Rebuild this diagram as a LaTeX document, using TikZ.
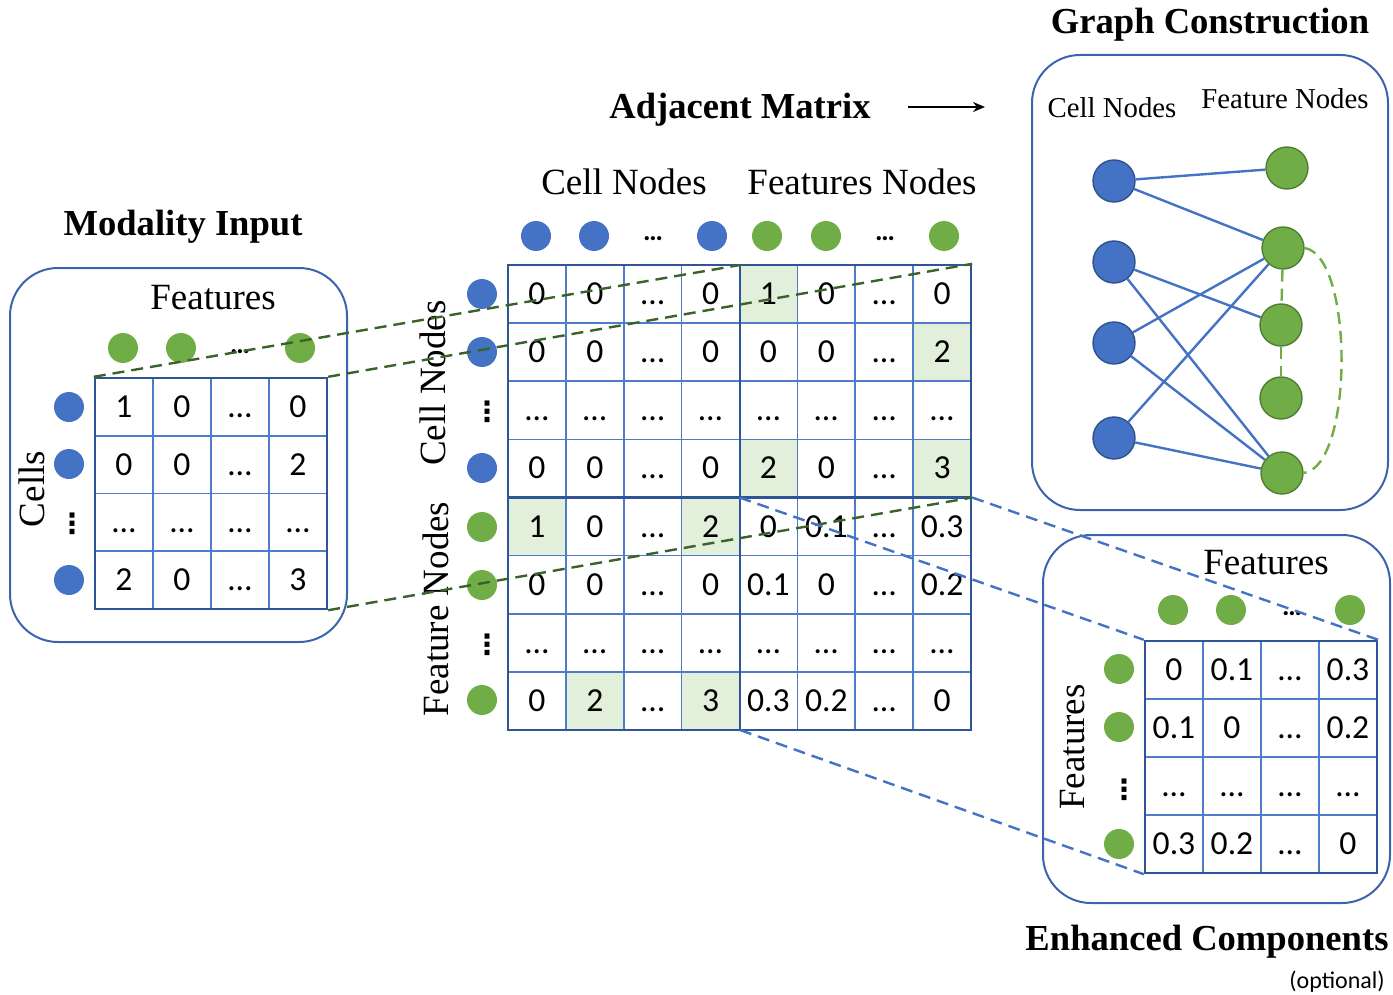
\documentclass[tikz,border=0pt]{standalone}
\usepackage{fontspec}
\setmainfont{Liberation Serif}
\newfontfamily\numfont{Carlito}
\newfontfamily\symfont{DejaVu Sans}
\usetikzlibrary{arrows.meta}
\definecolor{cblue}{HTML}{4472C4}
\definecolor{cgreen}{HTML}{70AD47}
\definecolor{cgrid}{HTML}{4F7BCB}
\definecolor{cframe}{HTML}{2F5597}
\definecolor{cbox}{HTML}{3C64AE}
\definecolor{cdkgreen}{HTML}{3B6329}
\definecolor{cshade}{HTML}{E2EFDA}
\definecolor{cbborder}{HTML}{2F528F}
\definecolor{cgborder}{HTML}{507E32}
\begin{document}
\begin{tikzpicture}[x=0.5pt,y=-0.5pt,
  lab/.style={font=\fontsize{18.5}{22}\selectfont, inner sep=0},
  slab/.style={font=\fontsize{14.4}{17}\selectfont, inner sep=0},
  ttl/.style={font=\fontsize{18.3}{22}\selectfont\bfseries, inner sep=0},
  num/.style={font=\numfont\fontsize{16.8}{20}\selectfont, anchor=base, inner sep=0},
  hell/.style={font=\numfont\bfseries\fontsize{14}{17}\selectfont, anchor=base, inner sep=0},
  vdots/.style={font=\symfont\bfseries\fontsize{14}{16}\selectfont, inner sep=0},
  bdot/.style={circle, fill=cblue, minimum size=15pt, inner sep=0},
  gdot/.style={circle, fill=cgreen, minimum size=15pt, inner sep=0},
  bnode/.style={circle, fill=cblue, draw=cbborder, line width=0.7pt, minimum size=21pt, inner sep=0},
  gnode/.style={circle, fill=cgreen, draw=cgborder, line width=0.7pt, minimum size=21pt, inner sep=0},
  rbox/.style={draw=cbox, line width=1pt, rounded corners=24pt, inner sep=0},
  frame/.style={draw=cframe, line width=1.2pt, inner sep=0},
  grid/.style={draw=cgrid, line width=0.8pt},
  gdash/.style={draw=cdkgreen, line width=1.2pt, dash pattern=on 6pt off 3.5pt},
  bdash/.style={draw=cblue, line width=1.2pt, dash pattern=on 6pt off 3.5pt},
  edge/.style={draw=cblue, line width=1.2pt},
  fdash/.style={draw=cgreen, line width=1.2pt, dash pattern=on 6pt off 3.5pt}
]
\useasboundingbox (0,0) rectangle (1393,995);

% ---------- rounded boxes ----------
\node[rbox, minimum width=168.5pt, minimum height=187pt] (modbox) at (178.5,455) {};
\node[rbox, minimum width=178pt, minimum height=227.5pt] (graphbox) at (1210,282.5) {};
\node[rbox, minimum width=173.5pt, minimum height=184pt] (enhbox) at (1216.5,719) {};

% ---------- titles ----------
\node[ttl] (tmod) at (183,227) {Modality Input};
\node[ttl] (tadj) at (740,110) {Adjacent Matrix};
\node[ttl] (tgraph) at (1210,25) {Graph Construction};
\node[ttl] (tenh) at (1207,942) {Enhanced Components};
\node[font=\numfont\fontsize{12}{14}\selectfont, inner sep=0] (topt) at (1337,982) {(optional)};

\coordinate (arS) at (908,107);
\coordinate (arE) at (985,107);
\draw[line width=1pt, -{Stealth[length=6pt,width=5pt]}] (arS) -- (arE);

% ---------- Modality input ----------
\node[lab] (lfeat1) at (213,298) {Features};
\node[lab, rotate=90] (lcells) at (32,489) {Cells};
\node[gdot] (mg1) at (123,348) {};
\node[gdot] (mg2) at (181,348) {};
\node[hell] (mgd) at (240,353) {…};
\node[gdot] (mg3) at (300,348) {};
\node[bdot] (mb1) at (69,407) {};
\node[bdot] (mb2) at (69,464) {};
\node[vdots] (mbd) at (72,524) {⋮};
\node[bdot] (mb3) at (69,580) {};

\foreach \i in {1,2,3} {
  \draw[grid] (95+58*\i,378) -- (95+58*\i,609);
  \draw[grid] (95,378+57.75*\i) -- (327,378+57.75*\i);
}
\foreach \vals [count=\r] in {{1,0,…,0},{0,0,…,2},{…,…,…,…},{2,0,…,3}} {
  \foreach \v [count=\c] in \vals {
    \node[num] (mi-\r-\c) at (95+58*\c-29, 378+57.75*\r-28.875+10.5) {\v};
  }
}
\node[frame, minimum width=116pt, minimum height=115.5pt] (mifr) at (211,493.5) {};

% ---------- Adjacent matrix ----------
\node[lab] (lcn) at (624,182) {Cell Nodes};
\node[lab] (lfn) at (862,182) {Features Nodes};
\node[lab, rotate=90] (lcnr) at (433,383) {Cell Nodes};
\node[lab, rotate=90] (lfnr) at (436,609) {Feature Nodes};

\node[bdot] (ab1) at (536,236) {};
\node[bdot] (ab2) at (594,236) {};
\node[hell] (abd) at (653,241) {…};
\node[bdot] (ab3) at (712,236) {};
\node[gdot] (ag1) at (767,236) {};
\node[gdot] (ag2) at (826,236) {};
\node[hell] (agd) at (885,241) {…};
\node[gdot] (ag3) at (944,236) {};

\node[bdot] (arb1) at (482,294) {};
\node[bdot] (arb2) at (482,352) {};
\node[vdots] (arbd) at (487,412) {⋮};
\node[bdot] (arb3) at (482,468) {};
\node[gdot] (arg1) at (482,527) {};
\node[gdot] (arg2) at (482,585) {};
\node[vdots] (argd) at (487,645) {⋮};
\node[gdot] (arg3) at (482,700) {};

\foreach \r/\c in {1/5,2/8,4/5,4/8,5/1,5/4,8/2,8/4}
  \fill[cshade] (508+57.875*\c-57.875, 265+58.125*\r-58.125) rectangle ++(57.875,58.125);

\foreach \i in {1,2,3,5,6,7} {
  \draw[grid] (508+57.875*\i,265) -- (508+57.875*\i,730);
  \draw[grid] (508,265+58.125*\i) -- (971,265+58.125*\i);
}
\foreach \vals [count=\r] in {
  {0,0,…,0,1,0,…,0},
  {0,0,…,0,0,0,…,2},
  {…,…,…,…,…,…,…,…},
  {0,0,…,0,2,0,…,3},
  {1,0,…,2,0,0.1,…,0.3},
  {0,0,…,0,0.1,0,…,0.2},
  {…,…,…,…,…,…,…,…},
  {0,2,…,3,0.3,0.2,…,0}} {
  \foreach \v [count=\c] in \vals {
    \node[num] (ad-\r-\c) at (508+57.875*\c-28.94, 265+58.125*\r-29.06+10.5) {\v};
  }
}
\node[frame, minimum width=231.5pt, minimum height=232.5pt] (adfr) at (739.5,497.5) {};
\coordinate (admidT) at (740,265);
\coordinate (admidB) at (740,730);
\draw[frame] (admidT) -- (admidB);
\draw[frame] (adfr.west) -- (adfr.east);

% ---------- Graph construction ----------
\node[slab] (gcn) at (1112,108) {Cell Nodes};
\node[slab] (gfn) at (1285,99) {Feature Nodes};
\node[bnode] (gb1) at (1114,181) {};
\node[bnode] (gb2) at (1114,262) {};
\node[bnode] (gb3) at (1114,343) {};
\node[bnode] (gb4) at (1114,438) {};
\node[gnode] (gg1) at (1287,168) {};
\node[gnode] (gg2) at (1283,248) {};
\node[gnode] (gg3) at (1281,325) {};
\node[gnode] (gg4) at (1281,398) {};
\node[gnode] (gg5) at (1282,473) {};
\draw[edge] (gb1) -- (gg1);
\draw[edge] (gb1) -- (gg2);
\draw[edge] (gb2) -- (gg3);
\draw[edge] (gb2) -- (gg5);
\draw[edge] (gb3) -- (gg2);
\draw[edge] (gb3) -- (gg5);
\draw[edge] (gb4) -- (gg2);
\draw[edge] (gb4) -- (gg5);
\draw[fdash] (gg2) -- (gg3);
\draw[fdash] (gg3) -- (gg4);
\draw[fdash] (gg2.east) .. controls (1354,256) and (1354,466) .. (gg5.east);

% ---------- Enhanced components ----------
\node[lab] (lfeat2) at (1266,563) {Features};
\node[lab, rotate=90] (lfeat3) at (1073,747) {Features};
\node[gdot] (eg1) at (1173,610) {};
\node[gdot] (eg2) at (1231,610) {};
\node[hell] (egd) at (1292,615) {…};
\node[gdot] (eg3) at (1350,610) {};
\node[gdot] (el1) at (1119,669) {};
\node[gdot] (el2) at (1119,727) {};
\node[vdots] (eld) at (1124,790) {⋮};
\node[gdot] (el3) at (1119,844) {};

\foreach \i in {1,2,3} {
  \draw[grid] (1145+58*\i,641) -- (1145+58*\i,873);
  \draw[grid] (1145,641+58*\i) -- (1377,641+58*\i);
}
\foreach \vals [count=\r] in {{0,0.1,…,0.3},{0.1,0,…,0.2},{…,…,…,…},{0.3,0.2,…,0}} {
  \foreach \v [count=\c] in \vals {
    \node[num] (en-\r-\c) at (1145+58*\c-29, 641+58*\r-29+10.5) {\v};
  }
}
\node[frame, minimum width=116pt, minimum height=116pt] (enfr) at (1261,757) {};

% ---------- projection lines ----------
\draw[gdash] (mifr.north west) -- (admidT);
\draw[gdash] (mifr.north east) -- (adfr.north east);
\draw[gdash] (mifr.south east) -- (adfr.east);
\draw[bdash] (adfr.center) -- (enfr.north west);
\draw[bdash] (adfr.east) -- (enfr.north east);
\draw[bdash] (admidB) -- (enfr.south west);
\end{tikzpicture}
\end{document}
